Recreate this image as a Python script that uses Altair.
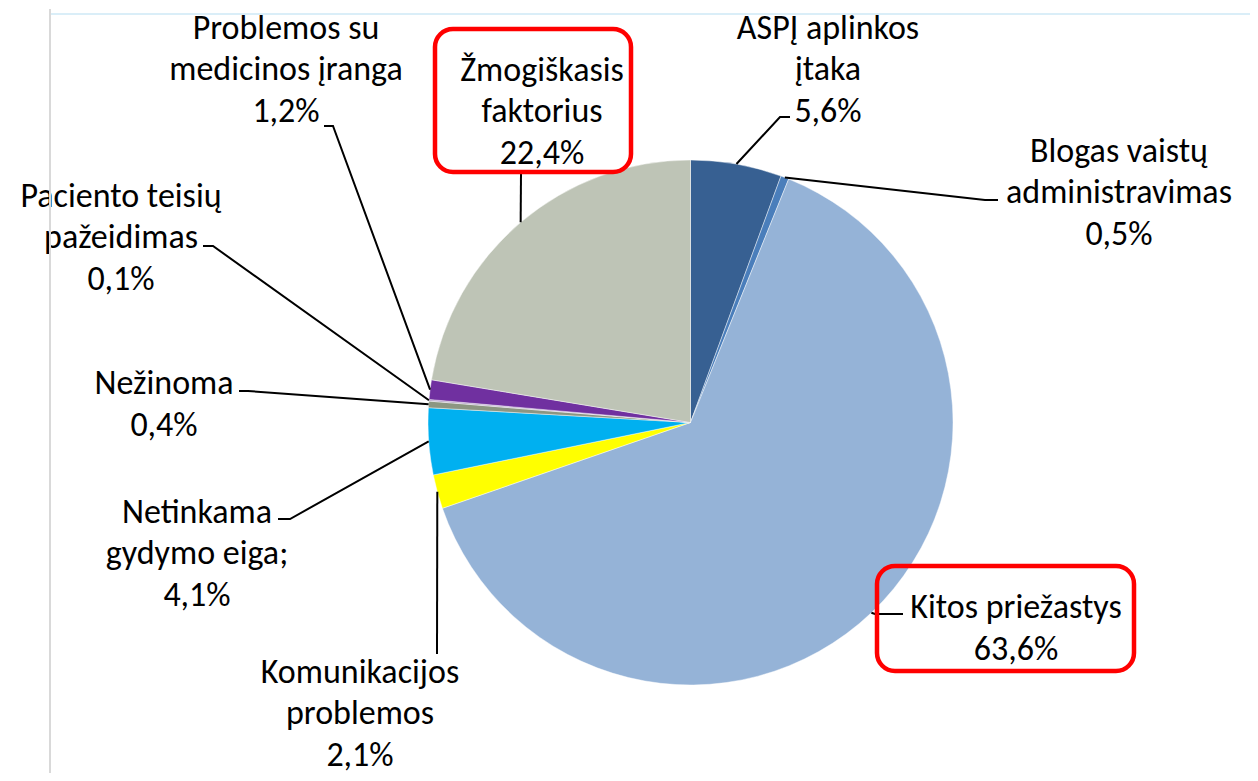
import math
import altair as alt
import pandas as pd

# ---- data ----
categories = [
    "ASPĮ aplinkos įtaka",
    "Blogas vaistų administravimas",
    "Kitos priežastys",
    "Komunikacijos problemos",
    "Netinkama gydymo eiga;",
    "Nežinoma",
    "Paciento teisių pažeidimas",
    "Problemos su medicinos įranga",
    "Žmogiškasis faktorius",
]
label_names = [
    "ASPĮ aplinkos\nįtaka",
    "Blogas vaistų\nadministravimas",
    "Kitos priežastys",
    "Komunikacijos\nproblemos",
    "Netinkama\ngydymo eiga;",
    "Nežinoma",
    "Paciento teisių\npažeidimas",
    "Problemos su\nmedicinos įranga",
    "Žmogiškasis\nfaktorius",
]
values = [5.6, 0.5, 63.6, 2.1, 4.1, 0.4, 0.1, 1.2, 22.4]
highlighted = ["Kitos priežastys", "Žmogiškasis faktorius"]

# ---- styles / layout ----
colors = ["#376092", "#4A7EBB", "#95B3D7", "#FFFF00", "#00B0F0",
          "#8C9682", "#B3A2C7", "#7030A0", "#BEC4B6"]
W, H = 1242, 765
OFF = 8                       # page margin: scales are in page pixels
CX, CY, R = 690.5, 422.5, 262.5
FONT = "Carlito, Lato, sans-serif"
FS = 34
LH = 41.5

# label block centres, leader elbows and ends (page pixels)
label_pos = [(828, 69), (1119, 192), (1016, 628), (360, 713), (197, 553),
             (164, 404), (121, 237), (286, 69), (542, 111)]
leader_elbow = [(780, 117), (985, 200), (875, 614), (437, 654), (290, 519),
                (248, 391), (213, 246), (333, 126), (521, 173)]
leader_end = [(790, 117), (998, 200), (903, 614), (437, 654), (278, 519),
              (239, 391), (203, 246), (324, 126), (521, 173)]
box_extent = {"Žmogiškasis faktorius": (435, 631, 29, 172),
              "Kitos priežastys": (877, 1134, 566, 671)}

# ---- tables ----
df = pd.DataFrame({"cat": categories, "value": values, "idx": range(len(values))})
df["label"] = [n + "\n" + f"{v:.1f}".replace(".", ",") + "%" for n, v in zip(label_names, values)]
nlines = [lab.count("\n") + 1 for lab in df["label"]]
df["lx"] = [p[0] for p in label_pos]
df["ly"] = [p[1] - (n - 1) / 2 * LH + 1 for p, n in zip(label_pos, nlines)]

rows = []
cum = 0.0
for i, (c, v) in enumerate(zip(categories, values)):
    mid = (cum + v / 2) / 100 * 2 * math.pi
    cum += v
    sx, sy = CX + R * math.sin(mid), CY - R * math.cos(mid)
    pts = [(sx, sy), leader_elbow[i], leader_end[i]]
    for k, (px, py) in enumerate(pts):
        rows.append({"cat": c, "k": k, "px": px, "py": py})
lines_df = pd.DataFrame(rows)

boxes_df = pd.DataFrame([{"cat": c, "x": e[0], "x2": e[1], "y": e[2], "y2": e[3]}
                         for c, e in box_extent.items() if c in highlighted])

xs = alt.Scale(domain=[OFF, OFF + W], range=[0, W])
ys = alt.Scale(domain=[OFF, OFF + H], range=[0, H])

# ---- layers ----
shadow = alt.Chart(pd.DataFrame({"v": [1, 1]})).mark_arc(
    color="#000000", opacity=0.12, outerRadius=R + 2
).encode(theta=alt.Theta("v:Q", stack=True),
         x=alt.value(CX - OFF + 2), y=alt.value(CY - OFF + 4))
shadow2 = alt.Chart(pd.DataFrame({"v": [1, 1]})).mark_arc(
    color="#000000", opacity=0.18, outerRadius=R
).encode(theta=alt.Theta("v:Q", stack=True),
         x=alt.value(CX - OFF + 1), y=alt.value(CY - OFF + 2))

pie = alt.Chart(df).mark_arc(
    outerRadius=R, stroke="#ffffff", strokeWidth=0.8, strokeOpacity=0.55
).encode(
    theta=alt.Theta("value:Q", stack=True),
    order=alt.Order("idx:Q", sort="ascending"),
    color=alt.Color("cat:N", scale=alt.Scale(domain=categories, range=colors), legend=None),
    x=alt.value(CX - OFF), y=alt.value(CY - OFF),
)

leaders = alt.Chart(lines_df).mark_line(color="#000000", strokeWidth=2).encode(
    x=alt.X("px:Q", scale=xs, axis=None),
    y=alt.Y("py:Q", scale=ys, axis=None),
    detail="cat:N",
    order="k:Q",
)

boxes = alt.Chart(boxes_df).mark_rect(
    fillOpacity=0, stroke="#FF0000", strokeWidth=4.5, cornerRadius=18
).encode(
    x=alt.X("x:Q", scale=xs, axis=None), x2="x2:Q",
    y=alt.Y("y:Q", scale=ys, axis=None), y2="y2:Q",
)

labels = alt.Chart(df).mark_text(
    font=FONT, fontSize=FS, lineHeight=LH, lineBreak="\n",
    align="center", baseline="middle", color="#000000"
).encode(
    x=alt.X("lx:Q", scale=xs, axis=None),
    y=alt.Y("ly:Q", scale=ys, axis=None),
    text="label:N",
)

border_v = alt.Chart(pd.DataFrame({"a": [0]})).mark_rule(color="#D9D9D9", strokeWidth=2).encode(
    x=alt.datum(50, scale=xs), y=alt.datum(9, scale=ys), y2=alt.datum(781))
border_h = alt.Chart(pd.DataFrame({"a": [0]})).mark_rule(color="#DAEEF8", strokeWidth=2).encode(
    y=alt.datum(14, scale=ys), x=alt.datum(51, scale=xs), x2=alt.datum(1258))

chart = alt.layer(
    shadow, shadow2, pie, leaders, boxes, labels, border_v, border_h
).properties(
    width=W, height=H, padding=0, autosize=alt.AutoSizeParams(type="none")
).configure_view(stroke=None).resolve_scale(x="shared", y="shared")

chart.save("out.html", embed_options={"renderer": "svg", "actions": False})
